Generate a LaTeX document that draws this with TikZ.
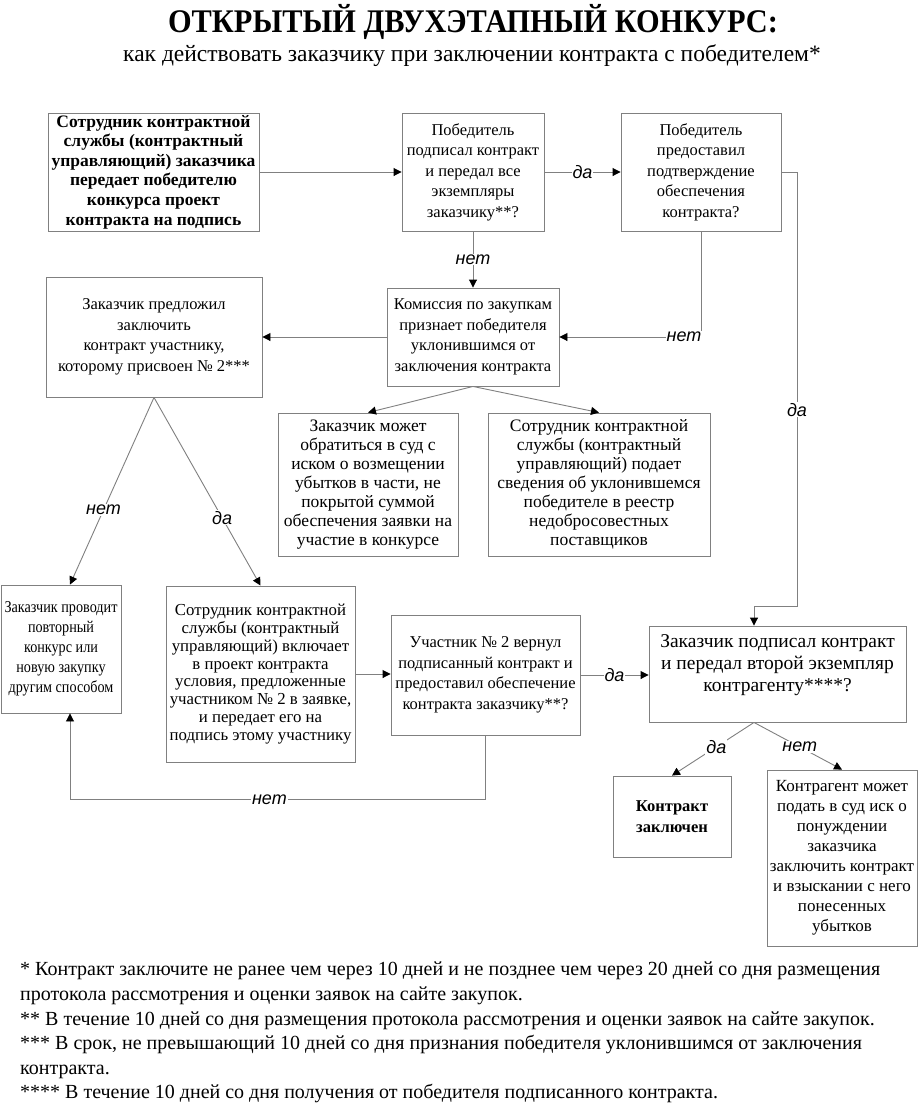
\documentclass[tikz,border=0pt]{standalone}
\usepackage{fontspec}
\setmainfont{Liberation Serif}
\newfontfamily\lblfont{Liberation Sans}
\newfontfamily\narrowfont[FakeStretch=0.86]{Liberation Serif}
\newfontfamily\titlefont[FakeStretch=0.92]{Liberation Serif}
\usetikzlibrary{arrows.meta}
\definecolor{lc}{HTML}{808080}
\begin{document}
\begin{tikzpicture}[x=1pt,y=-1pt,
  box/.style={draw=lc, line width=0.9pt, inner sep=1pt, align=center, font=\fontsize{16.5}{20.5}\selectfont},
  arr/.style={draw=lc, line width=0.9pt, -{Triangle[length=8pt,width=8pt,color=black]}},
  lbl/.style={fill=white, inner sep=1pt, font=\lblfont\itshape\fontsize{18}{18}\selectfont},
]
\useasboundingbox (0,0) rectangle (920,1104);
\fill[white] (0,0) rectangle (920,1104);

% titles
\node[font=\titlefont\bfseries\fontsize{33}{35}\selectfont] (title) at (473,22) {ОТКРЫТЫЙ ДВУХЭТАПНЫЙ КОНКУРС:};
\node[font=\fontsize{23.5}{25}\selectfont] (subtitle) at (472,56) {как действовать заказчику при заключении контракта с победителем*};

% boxes
\node[box, minimum width=211pt, minimum height=118pt, font=\bfseries\fontsize{17.5}{19.6}\selectfont] (A) at (153.5,172)
  {Сотрудник контрактной\\службы (контрактный\\управляющий) заказчика\\передает победителю\\конкурса проект\\контракта на подпись};
\node[box, minimum width=142pt, minimum height=118pt] (B) at (473,172)
  {Победитель\\подписал контракт\\и передал все\\экземпляры\\заказчику**?};
\node[box, minimum width=160pt, minimum height=118pt] (C) at (701,172)
  {Победитель\\предоставил\\подтверждение\\обеспечения\\контракта?};
\node[box, minimum width=172pt, minimum height=98pt] (D) at (473,337)
  {Комиссия по закупкам\\признает победителя\\уклонившимся от\\заключения контракта};
\node[box, minimum width=216pt, minimum height=120pt] (E) at (154,337)
  {Заказчик предложил\\заключить\\контракт участнику,\\которому присвоен №~2***};
\node[box, minimum width=180pt, minimum height=143pt, font=\fontsize{17.5}{18.9}\selectfont] (F) at (368,484.5)
  {Заказчик может\\обратиться в суд с\\иском о возмещении\\убытков в части, не\\покрытой суммой\\обеспечения заявки на\\участие в конкурсе};
\node[box, minimum width=222pt, minimum height=143pt, font=\fontsize{17.5}{18.9}\selectfont] (G) at (599,484.5)
  {Сотрудник контрактной\\службы (контрактный\\управляющий) подает\\сведения об уклонившемся\\победителе в реестр\\недобросовестных\\поставщиков};
\node[box, minimum width=120pt, minimum height=128pt, font=\narrowfont\fontsize{16.5}{20}\selectfont] (H) at (61,649)
  {Заказчик проводит\\повторный\\конкурс или\\новую закупку\\другим способом};
\node[box, minimum width=189pt, minimum height=176pt, font=\fontsize{16.8}{17.8}\selectfont] (I) at (260.5,674)
  {Сотрудник контрактной\\службы (контрактный\\управляющий) включает\\в проект контракта\\условия, предложенные\\участником №~2 в заявке,\\и передает его на\\подпись этому участнику};
\node[box, minimum width=189pt, minimum height=120pt] (J) at (485.5,675)
  {Участник №~2 вернул\\подписанный контракт и\\предоставил обеспечение\\контракта заказчику**?};
\node[box, minimum width=257pt, minimum height=96pt, font=\fontsize{19.5}{22}\selectfont] (K) at (777.5,674)
  {Заказчик подписал контракт\\и передал второй экземпляр\\контрагенту****?\\\mbox{}};
\node[box, minimum width=118pt, minimum height=81pt, font=\bfseries\fontsize{16.5}{21}\selectfont] (L) at (672,816.5)
  {Контракт\\заключен};
\node[box, minimum width=150pt, minimum height=176pt, font=\fontsize{17}{20}\selectfont] (M) at (842,858)
  {Контрагент может\\подать в суд иск о\\понуждении\\заказчика\\заключить контракт\\и взыскании с него\\понесенных\\убытков};

% connectors
\coordinate (r1) at (797,606);
\draw[arr] (A.east) -- (B.west);
\draw[arr] (B.east) -- node[lbl]{да} (C.west);
\draw[arr] (C.east) -| node[lbl,pos=0.774]{да} (r1) -| ([xshift=-23.5pt]K.north);
\draw[arr] (B.south) -- node[lbl]{нет} (D.north);
\draw[arr] (C.south) |- node[lbl,pos=0.56]{нет} (D.east);
\draw[arr] (D.west) -- (E.east);
\draw[arr] (D.south) -- (F.north);
\draw[arr] (D.south) -- (G.north);
\draw[arr] (E.south) -- node[lbl,pos=0.6]{нет} ([xshift=9pt]H.north);
\draw[arr] (E.south) -- node[lbl,pos=0.64]{да} (I.north);
\draw[arr] (I.east) -- (I.east -| J.west);
\draw[arr] (J.east) -- node[lbl]{да} (J.east -| K.west);
\draw[arr] (J.south) -- ++(0,64) -| node[lbl,pos=0.26]{нет} ([xshift=9pt]H.south);
\draw[arr] ([xshift=-23.5pt]K.south) -- node[lbl,pos=0.46]{да} (L.north);
\draw[arr] ([xshift=-23.5pt]K.south) -- node[lbl,pos=0.52]{нет} (M.north);

% footnotes
\node[anchor=north west, align=left, inner sep=0pt, font=\fontsize{20}{24.6}\selectfont] (notes) at (20,962)
  {* Контракт заключите не ранее чем через 10 дней и не позднее чем через 20 дней со дня размещения\\
   протокола рассмотрения и оценки заявок на сайте закупок.\\
   ** В течение 10 дней со дня размещения протокола рассмотрения и оценки заявок на сайте закупок.\\
   *** В срок, не превышающий 10 дней со дня признания победителя уклонившимся от заключения\\
   контракта.\\
   **** В течение 10 дней со дня получения от победителя подписанного контракта.};
\end{tikzpicture}
\end{document}
